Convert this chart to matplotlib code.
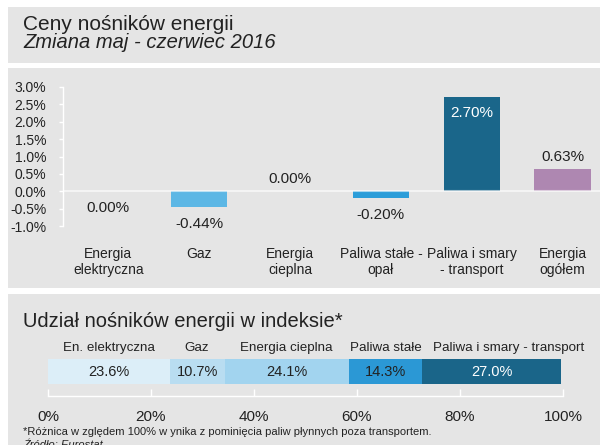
import matplotlib
matplotlib.use("Agg")
import matplotlib.pyplot as plt
from matplotlib.patches import Rectangle

plt.rcParams['font.family'] = ['Liberation Sans', 'DejaVu Sans']

# --- data ---
categories = ['Energia\nelektryczna', 'Gaz', 'Energia\ncieplna',
              'Paliwa stałe -\nopał', 'Paliwa i smary\n- transport', 'Energia\nogółem']
changes = [0.00, -0.44, 0.00, -0.20, 2.70, 0.63]
change_labels = ['0.00%', '-0.44%', '0.00%', '-0.20%', '2.70%', '0.63%']
label_place = ['below', 'below', 'above', 'below', 'inside', 'above']
bar_colors = ['none', '#5cb7e5', 'none', '#2b9dd9', '#1a668a', '#ae87b1']
yticks = [-1.0, -0.5, 0.0, 0.5, 1.0, 1.5, 2.0, 2.5, 3.0]

shares_names = ['En. elektryczna', 'Gaz', 'Energia cieplna', 'Paliwa stałe',
                'Paliwa i smary - transport']
shares = [23.6, 10.7, 24.1, 14.3, 27.0]
share_colors = ['#dceef8', '#b9ddf1', '#a2d4ef', '#2b98d5', '#1a6589']
share_text = ['#222222', '#222222', '#222222', '#222222', 'white']
xticks2 = [0, 20, 40, 60, 80, 100]

W, H = 600, 445
BG = '#e5e5e5'
TXT = '#222222'

def fx(x):
    return x / W

def fy(y):
    return 1 - y / H

fig = plt.figure(figsize=(6, 4.45), dpi=100)
fig.patch.set_facecolor('white')

# grey panels
for top, bottom in [(7, 63), (68, 288), (294, 445)]:
    fig.add_artist(Rectangle((fx(8), fy(bottom)), 1, (bottom - top) / H,
                             transform=fig.transFigure, facecolor=BG,
                             edgecolor='none', zorder=0))

fig.text(fx(23), fy(30), 'Ceny nośników energii', fontsize=15,
         color=TXT, va='baseline')
fig.text(fx(23), fy(48), 'Zmiana maj - czerwiec 2016', fontsize=14.5,
         style='italic', color=TXT, va='baseline')

# --- bar chart ---
ax = fig.add_axes([fx(63), fy(226), 545 / W, (226 - 87) / H])
ax.set_facecolor('none')
x = list(range(len(changes)))
ax.bar(x, changes, width=0.62, color=bar_colors, zorder=2)
ax.axhline(0, color='white', lw=1.5, alpha=0.6, zorder=3)
ax.set_xlim(-0.5, len(changes) - 0.5)
ax.set_ylim(-1.0, 3.0)
ax.set_yticks(yticks)
ax.set_yticklabels([f'{v:.1f}%' for v in yticks], fontsize=10, color=TXT)
ax.set_xticks(x)
ax.set_xticklabels(categories, fontsize=10, color=TXT, linespacing=1.2)
ax.tick_params(axis='x', length=0, pad=15)
ax.tick_params(axis='y', colors='white', length=3, width=1, pad=9)
for t in ax.get_yticklabels():
    t.set_color(TXT)
for s in ['top', 'right', 'bottom']:
    ax.spines[s].set_visible(False)
ax.spines['left'].set_color('white')
ax.spines['left'].set_linewidth(1)

for i, (v, lab, place) in enumerate(zip(changes, change_labels, label_place)):
    if place == 'below':
        ax.annotate(lab, (i, min(v, 0)), xytext=(0, -17), textcoords='offset pixels',
                    ha='center', va='center', fontsize=11, color=TXT)
    elif place == 'above':
        ax.annotate(lab, (i, v), xytext=(0, 12), textcoords='offset pixels',
                    ha='center', va='center', fontsize=11, color=TXT)
    else:
        ax.annotate(lab, (i, v), xytext=(0, -16), textcoords='offset pixels',
                    ha='center', va='center', fontsize=11, color='white')

# --- shares chart ---
fig.text(fx(23), fy(327), 'Udział nośników energii w indeksie*', fontsize=14.5,
         color=TXT, va='baseline')

ax2 = fig.add_axes([fx(48), fy(396), (563 - 48) / W, (396 - 338) / H])
ax2.set_facecolor('none')
left = 0
for name, val, col, tc in zip(shares_names, shares, share_colors, share_text):
    ax2.barh(0, val, left=left, height=1, color=col, zorder=2)
    ax2.text(left + val / 2, 0, f'{val:.1f}%', ha='center', va='center',
             fontsize=10.5, color=tc, zorder=3)
    if name == shares_names[-1]:
        ax2.text(left + 2, 0.94, name, ha='left', va='center', fontsize=9.6, color=TXT)
    else:
        ax2.text(left + val / 2, 0.94, name, ha='center', va='center',
                 fontsize=9.6, color=TXT)
    left += val
ax2.set_xlim(0, 100)
ax2.set_ylim(-0.98, 1.34)
ax2.set_yticks([])
ax2.set_xticks(xticks2)
ax2.set_xticklabels([f'{v}%' for v in xticks2], fontsize=11, color=TXT)
ax2.tick_params(axis='x', colors='white', direction='in', length=5, width=1, pad=10)
for t in ax2.get_xticklabels():
    t.set_color(TXT)
for s in ['top', 'right', 'left']:
    ax2.spines[s].set_visible(False)
ax2.spines['bottom'].set_color('white')
ax2.spines['bottom'].set_linewidth(1)

fig.text(fx(23), fy(432), '*Różnica w zględem 100% w ynika z pominięcia paliw płynnych poza transportem.',
         fontsize=8, color=TXT, va='center')
fig.text(fx(23), fy(445), 'Źródło: Eurostat', fontsize=8, style='italic',
         color=TXT, va='center')

fig.savefig('out.png', dpi=100, facecolor='white')
